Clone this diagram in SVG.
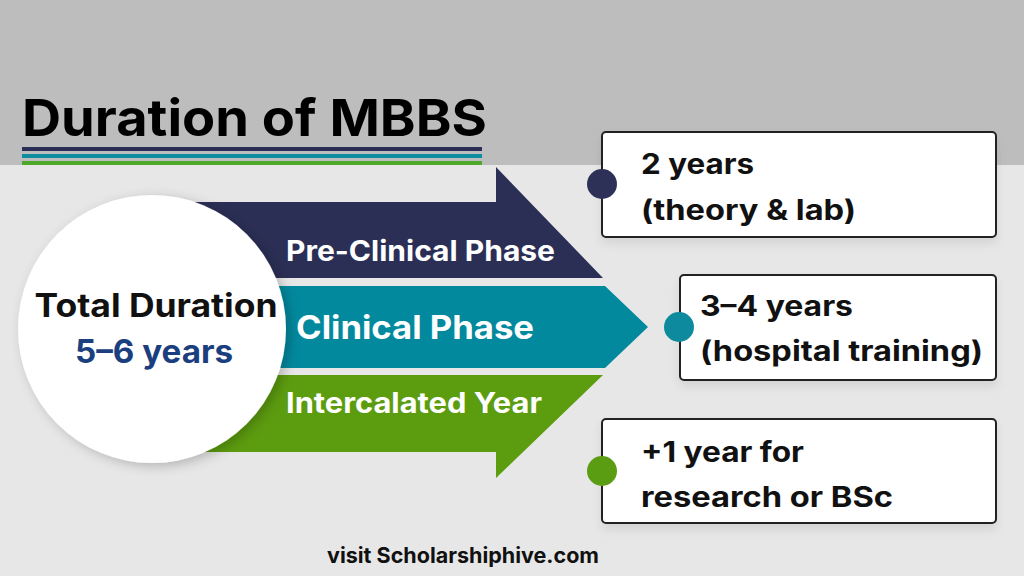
<svg xmlns="http://www.w3.org/2000/svg" width="1024" height="576" viewBox="0 0 1024 576">
  <defs>
    <style>
      .t { font-family: Inter, "Open Sans", "Liberation Sans", Arial, sans-serif; font-weight: 700; }
      .w { fill: #ffffff; }
      .k { fill: #111111; }
      .box { fill: #ffffff; stroke: #222222; stroke-width: 2; }
    </style>
    <filter id="sh" x="-20%" y="-20%" width="140%" height="140%">
      <feDropShadow dx="4" dy="3" stdDeviation="6" flood-color="#000" flood-opacity="0.22"/>
    </filter>
    <filter id="bsh" x="-10%" y="-20%" width="120%" height="150%">
      <feDropShadow dx="0" dy="6" stdDeviation="5" flood-color="#000" flood-opacity="0.08"/>
    </filter>
  </defs>

  <!-- background -->
  <rect x="0" y="0" width="1024" height="576" fill="#e7e7e7"/>
  <rect x="0" y="0" width="1024" height="165" fill="#bdbdbd"/>

  <!-- title -->
  <g id="title">
    <text class="t" x="22" y="136" font-size="51" font-weight="800" fill="#000" textLength="465" lengthAdjust="spacingAndGlyphs">Duration of MBBS</text>
    <rect x="22" y="147" width="460" height="4" fill="#2b2f58"/>
    <rect x="22" y="154" width="460" height="4" fill="#0f8ca0"/>
    <rect x="22" y="161" width="460" height="4" fill="#4ea82a"/>
  </g>

  <!-- arrows -->
  <g id="arrow-preclinical">
    <polygon points="150,202 496,202 496,167 603,278 150,278" fill="#2b2f55"/>
    <text class="t w" x="286" y="261" font-size="28" textLength="269" lengthAdjust="spacingAndGlyphs">Pre-Clinical Phase</text>
  </g>
  <g id="arrow-clinical">
    <polygon points="150,286 605,286 648,327 605,368 150,368" fill="#02899e"/>
    <text class="t w" x="296" y="339" font-size="32" textLength="238" lengthAdjust="spacingAndGlyphs">Clinical Phase</text>
  </g>
  <g id="arrow-intercalated">
    <polygon points="150,375 603,375 496,478 496,452 150,452" fill="#5c9c0f"/>
    <text class="t w" x="286" y="413" font-size="28" textLength="256" lengthAdjust="spacingAndGlyphs">Intercalated Year</text>
  </g>

  <!-- center circle -->
  <g id="total">
    <circle cx="152" cy="329" r="134" fill="#ffffff" filter="url(#sh)"/>
    <text class="t k" x="156" y="317" font-size="32" text-anchor="middle" textLength="243" lengthAdjust="spacingAndGlyphs">Total Duration</text>
    <text class="t" x="154" y="363" font-size="32" text-anchor="middle" fill="#1b3f7e" textLength="158" lengthAdjust="spacingAndGlyphs">5–6 years</text>
  </g>

  <!-- detail boxes -->
  <g id="box-preclinical">
    <rect class="box" x="602" y="132" width="394" height="105" rx="4" filter="url(#bsh)"/>
    <circle cx="602" cy="184" r="15" fill="#2d3157"/>
    <text class="t k" x="641" y="174" font-size="28" textLength="113" lengthAdjust="spacingAndGlyphs">2 years</text>
    <text class="t k" x="641" y="220" font-size="28" textLength="215" lengthAdjust="spacingAndGlyphs">(theory &amp; lab)</text>
  </g>
  <g id="box-clinical">
    <rect class="box" x="680" y="275" width="316" height="105" rx="4" filter="url(#bsh)"/>
    <circle cx="679" cy="327" r="15" fill="#0e8a9e"/>
    <text class="t k" x="700" y="316" font-size="28" textLength="153" lengthAdjust="spacingAndGlyphs">3–4 years</text>
    <text class="t k" x="700" y="361" font-size="28" textLength="283" lengthAdjust="spacingAndGlyphs">(hospital training)</text>
  </g>
  <g id="box-intercalated">
    <rect class="box" x="602" y="419" width="394" height="104" rx="4" filter="url(#bsh)"/>
    <circle cx="602" cy="471" r="15" fill="#5a9c12"/>
    <text class="t k" x="641" y="462" font-size="28" textLength="163" lengthAdjust="spacingAndGlyphs">+1 year for</text>
    <text class="t k" x="641" y="507" font-size="28" textLength="252" lengthAdjust="spacingAndGlyphs">research or BSc</text>
  </g>

  <g id="connectors"></g>

  <!-- footer -->
  <text class="t k" x="327" y="563" font-size="21" font-weight="600" textLength="272" lengthAdjust="spacingAndGlyphs">visit Scholarshiphive.com</text>
</svg>
